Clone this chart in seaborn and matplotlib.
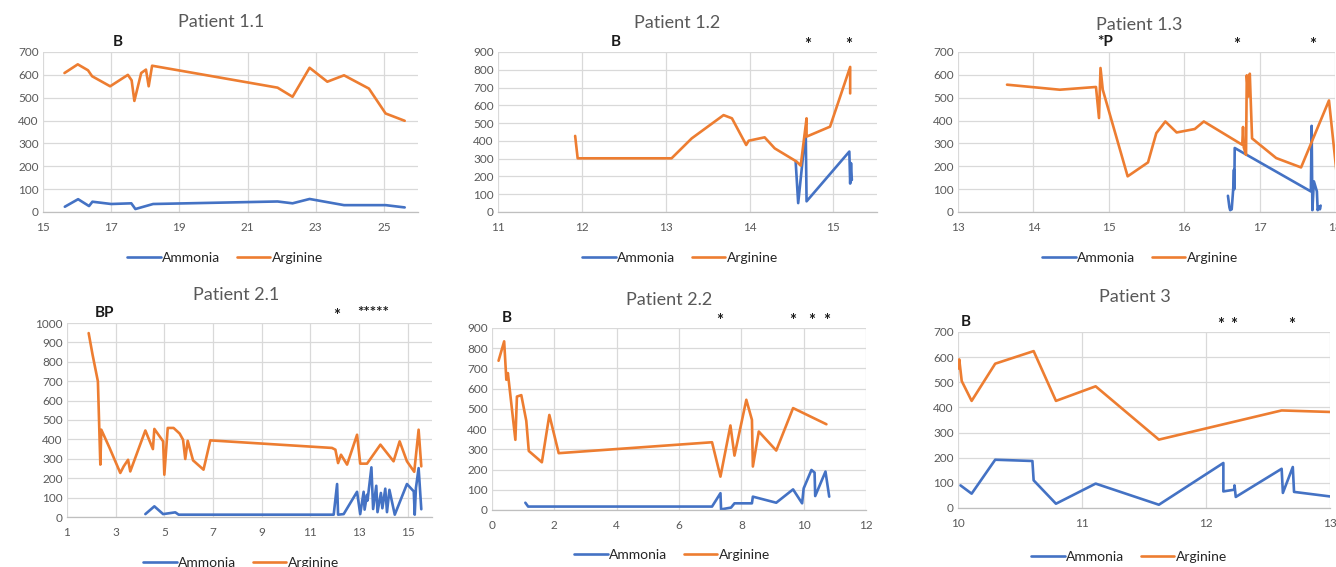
import numpy as np
import pandas as pd
import matplotlib
matplotlib.use("Agg")
import matplotlib.pyplot as plt
import seaborn as sns

# ---- data (time in days, concentration) ----
p11_amm_x = [15.64, 16.03, 16.35, 16.45, 17.0, 17.59, 17.71, 18.23, 21.88, 22.32, 22.82, 23.83, 24.56, 25.05, 25.61]
p11_amm_y = [23, 56, 26, 45, 35, 38, 13, 35, 46, 38, 57, 30, 30, 30, 20]
p11_arg_x = [15.63, 16.02, 16.32, 16.44, 16.97, 17.49, 17.6, 17.68, 17.88, 18.02, 18.10, 18.2,
             21.88, 22.32, 22.82, 23.34, 23.83, 24.56, 25.05, 25.61]
p11_arg_y = [608, 646, 620, 594, 550, 600, 576, 486, 608, 623, 550, 640,
             544, 504, 631, 570, 598, 540, 431, 399]

p12_amm_x = [14.55, 14.58, 14.67, 14.68, 15.19, 15.20, 15.21, 15.22]
p12_amm_y = [283, 50, 460, 60, 340, 160, 275, 180]
p12_arg_x = [11.92, 11.95, 13.07, 13.31, 13.69, 13.79, 13.96, 13.99, 14.18, 14.30, 14.56, 14.61,
             14.68, 14.68, 14.96, 15.20, 15.20]
p12_arg_y = [428, 302, 302, 414, 545, 527, 377, 401, 420, 358, 284, 261,
             527, 424, 480, 816, 667]

p13_amm_x = [16.58, 16.60, 16.61, 16.63, 16.65, 16.66, 16.665, 16.67, 17.68, 17.69, 17.70, 17.72,
             17.76, 17.77, 17.79, 17.80, 17.81]
p13_amm_y = [71, 20, 8, 12, 100, 185, 100, 280, 90, 377, 8, 134, 90, 8, 25, 12, 28]
p13_arg_x = [13.65, 14.35, 14.83, 14.87, 14.89, 14.92, 15.25, 15.52, 15.63, 15.75, 15.90, 16.14,
             16.26, 16.77, 16.78, 16.79, 16.82, 16.83, 16.85, 16.87, 16.88, 16.90, 17.22, 17.55,
             17.92, 18.02]
p13_arg_y = [557, 535, 547, 411, 630, 535, 156, 217, 345, 396, 348, 363,
             396, 294, 372, 283, 250, 598, 505, 605, 510, 322, 236, 195,
             488, 175]

p21_amm_x = [4.22, 4.59, 4.95, 5.45, 5.59, 11.96, 12.10, 12.14, 12.37, 12.92, 13.05, 13.19, 13.23,
             13.33, 13.35, 13.51, 13.58, 13.71, 13.76, 13.90, 13.96, 14.08, 14.15, 14.25, 14.47,
             14.97, 15.25, 15.29, 15.34, 15.45, 15.56]
p21_amm_y = [15, 55, 15, 24, 12, 12, 170, 12, 15, 130, 15, 130, 38,
             115, 85, 256, 41, 161, 25, 124, 45, 146, 25, 140, 12,
             170, 132, 12, 150, 252, 40]
p21_arg_x = [1.89, 2.05, 2.27, 2.37, 2.41, 2.75, 3.19, 3.33, 3.51, 3.60, 4.22, 4.53, 4.59, 4.95,
             5.00, 5.14, 5.38, 5.63, 5.77, 5.86, 5.96, 6.18, 6.61, 6.89, 11.89, 12.03, 12.14,
             12.26, 12.51, 12.92, 13.05, 13.33, 13.88, 14.42, 14.67, 14.97, 15.27, 15.45, 15.56]
p21_arg_y = [948, 837, 699, 270, 450, 356, 227, 261, 295, 235, 446, 350, 454, 390,
             218, 459, 459, 430, 398, 299, 393, 292, 244, 395, 356, 347, 278,
             321, 270, 424, 275, 275, 373, 287, 390, 287, 233, 450, 261]

p22_amm_x = [1.07, 1.16, 7.06, 7.33, 7.35, 7.67, 7.78, 8.34, 8.37, 9.12, 9.66, 9.95, 10.0,
             10.25, 10.35, 10.37, 10.70, 10.82]
p22_amm_y = [36, 17, 17, 83, 3, 12, 33, 33, 66, 36, 102, 33, 107, 198, 185, 69, 190, 66]
p22_arg_x = [0.21, 0.39, 0.46, 0.51, 0.75, 0.80, 0.94, 1.10, 1.18, 1.60, 1.84, 2.14, 7.06,
             7.33, 7.65, 7.78, 8.16, 8.34, 8.37, 8.56, 9.12, 9.66, 10.73]
p22_arg_y = [738, 834, 644, 677, 347, 561, 568, 441, 292, 236, 470, 281, 335,
             165, 418, 269, 545, 446, 215, 388, 294, 504, 424]

p3_amm_x = [10.02, 10.11, 10.30, 10.60, 10.61, 10.79, 11.11, 11.62, 12.14, 12.14, 12.23, 12.23,
            12.24, 12.61, 12.62, 12.70, 12.71, 13.0]
p3_amm_y = [90, 57, 192, 187, 110, 17, 97, 13, 179, 66, 73, 90, 44, 156, 60, 163, 64, 46]
p3_arg_x = [10.0, 10.01, 10.03, 10.11, 10.30, 10.61, 10.79, 11.11, 11.62, 12.61, 13.0]
p3_arg_y = [554, 591, 505, 426, 574, 624, 426, 484, 272, 388, 382]

# event markers above each chart
p11_marks = [(17.2, 'B')]
p12_marks = [(12.4, 'B'), (14.69, '*'), (15.18, '*')]
p13_marks = [(14.95, '*P'), (16.69, '*'), (17.71, '*')]
p21_marks = [(2.56, 'BP'), (12.07, '*'), (13.6, '*****')]
p22_marks = [(0.48, 'B'), (7.3, '*'), (9.65, '*'), (10.25, '*'), (10.74, '*')]
p3_marks = [(10.06, 'B'), (12.12, '*'), (12.22, '*'), (12.69, '*')]

sns.set_style("whitegrid")
plt.rcParams['font.family'] = ['Lato', 'DejaVu Sans']

W, H = 1336, 567
fig = plt.figure(figsize=(W / 100, H / 100), dpi=100)
fig.patch.set_facecolor('white')

palette = {'Ammonia': '#4472C4', 'Arginine': '#ED7D31'}
grey = '#595959'


def make_panel(box, title, title_xy, legend_xy, amm_x, amm_y, arg_x, arg_y,
               xlim, xticks, ylim, yticks, marks):
    left, right, top, bottom = box
    ax = fig.add_axes([left / W, 1 - bottom / H, (right - left) / W, (bottom - top) / H])
    df = pd.DataFrame({
        'x': amm_x + arg_x,
        'y': amm_y + arg_y,
        'series': ['Ammonia'] * len(amm_x) + ['Arginine'] * len(arg_x),
    })
    sns.lineplot(data=df, x='x', y='y', hue='series', palette=palette,
                 hue_order=['Ammonia', 'Arginine'], sort=False, estimator=None,
                 linewidth=1.9, ax=ax)
    ax.set_xlim(*xlim)
    ax.set_ylim(*ylim)
    ax.set_xticks(xticks)
    ax.set_yticks(yticks)
    ax.set_xlabel('')
    ax.set_ylabel('')
    ax.grid(True, color='#D9D9D9', linewidth=0.9)
    for s in ['top', 'right', 'left']:
        ax.spines[s].set_visible(False)
    ax.spines['bottom'].set_color('#BFBFBF')
    ax.spines['bottom'].set_linewidth(0.9)
    ax.tick_params(axis='both', length=0, labelsize=8.5, labelcolor=grey)
    ax.tick_params(axis='x', pad=7)
    ax.tick_params(axis='y', pad=3)
    fig.text(title_xy[0] / W, 1 - title_xy[1] / H, title, ha='center', va='center',
             fontsize=13, color=grey)
    handles, labels = ax.get_legend_handles_labels()
    ax.legend(handles, labels, loc='center', ncol=2, frameon=False,
              bbox_to_anchor=(legend_xy[0] / W, 1 - legend_xy[1] / H),
              bbox_transform=fig.transFigure, fontsize=10, handlelength=2.4,
              handletextpad=0.1, columnspacing=1.2, labelcolor='#262626')
    for mx, lab in marks:
        if lab == '*':
            ax.annotate(lab, xy=(mx, 1.0), xycoords=('data', 'axes fraction'),
                        xytext=(0, -1), textcoords='offset points', ha='center', va='bottom',
                        fontsize=12, fontweight='bold', color='#1a1a1a',
                        annotation_clip=False)
        else:
            ax.annotate(lab, xy=(mx, 1.0), xycoords=('data', 'axes fraction'),
                        xytext=(0, 2), textcoords='offset points', ha='center', va='bottom',
                        fontsize=11, fontweight='bold', color='#1a1a1a',
                        annotation_clip=False)
    return ax


make_panel((43, 418, 52, 212), 'Patient 1.1', (221, 22), (225, 258),
           p11_amm_x, p11_amm_y, p11_arg_x, p11_arg_y,
           (15, 26), [15, 17, 19, 21, 23, 25], (0, 700), range(0, 701, 100), p11_marks)
make_panel((498, 877, 52, 212), 'Patient 1.2', (677, 23), (680, 258),
           p12_amm_x, p12_amm_y, p12_arg_x, p12_arg_y,
           (11, 15.52), [11, 12, 13, 14, 15], (0, 900), range(0, 901, 100), p12_marks)
make_panel((958, 1335, 52, 212), 'Patient 1.3', (1139, 25), (1140, 258),
           p13_amm_x, p13_amm_y, p13_arg_x, p13_arg_y,
           (13, 18), [13, 14, 15, 16, 17, 18], (0, 700), range(0, 701, 100), p13_marks)
make_panel((67, 432, 323, 517), 'Patient 2.1', (236, 295), (241, 563),
           p21_amm_x, p21_amm_y, p21_arg_x, p21_arg_y,
           (1, 16), [1, 3, 5, 7, 9, 11, 13, 15], (0, 1000), range(0, 1001, 100), p21_marks)
make_panel((492, 866, 328, 510), 'Patient 2.2', (669, 300), (672, 555),
           p22_amm_x, p22_amm_y, p22_arg_x, p22_arg_y,
           (0, 12), [0, 2, 4, 6, 8, 10, 12], (0, 900), range(0, 901, 100), p22_marks)
make_panel((958, 1330, 332, 508), 'Patient 3', (1135, 297), (1129, 557),
           p3_amm_x, p3_amm_y, p3_arg_x, p3_arg_y,
           (10, 13), [10, 11, 12, 13], (0, 700), range(0, 701, 100), p3_marks)

fig.savefig('out.png', dpi=100)
